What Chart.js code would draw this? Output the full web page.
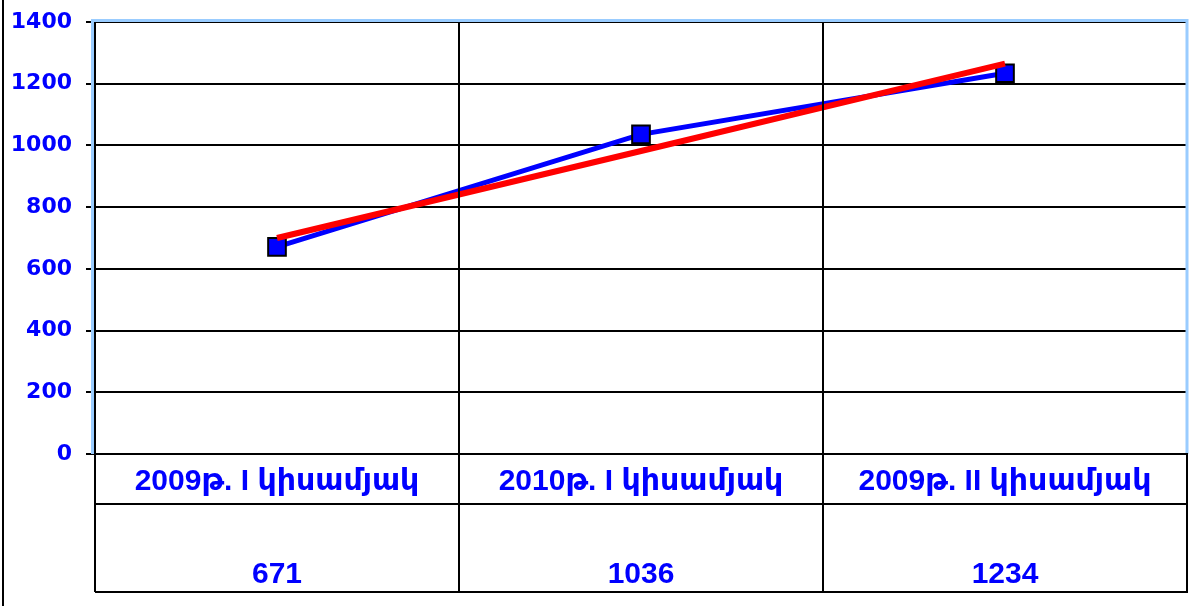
<!DOCTYPE html>
<html>
<head>
<meta charset="utf-8">
<script src="https://cdn.jsdelivr.net/npm/chart.js@4.4.0/dist/chart.umd.min.js"></script>
<style>
  html, body { margin: 0; padding: 0; background: #fff; }
  #wrap { width: 1189px; height: 606px; position: relative; }
</style>
</head>
<body>
<div id="wrap"><canvas id="chart" width="1189" height="606"></canvas></div>
<script>
// տվյալներ
const categories = ["2009թ. I կիսամյակ", "2010թ. I կիսամյակ", "2009թ. II կիսամյակ"];
const values = [671, 1036, 1234];
const trendValues = [700, 982, 1265]; // կարմիր գիծ, նկարից
const yTicks = [0, 200, 400, 600, 800, 1000, 1200, 1400];

const AXIS_FONT = "'DejaVu Sans', Verdana, sans-serif";
const TABLE_FONT = "'Liberation Sans', Arial, 'DejaVu Sans', sans-serif";
const BLUE_TXT = '#0000ff';

function noPadding(scale) {
    scale.paddingLeft = 0;
    scale.paddingRight = 0;
    scale.paddingTop = 0;
    scale.paddingBottom = 0;
}

// աղյուսակը գծի տակ
const tablePlugin = {
    id: 'dataTable',
    beforeDatasetsDraw(chart) {
        const ctx = chart.ctx;
        const a = chart.chartArea;
        ctx.save();
        ctx.strokeStyle = '#99ccff';
        ctx.lineWidth = 3;
        ctx.beginPath();
        ctx.moveTo(a.left - 2.5, a.bottom);
        ctx.lineTo(a.left - 2.5, a.top - 1.5);
        ctx.lineTo(a.right, a.top - 1.5);
        ctx.lineTo(a.right, a.bottom);
        ctx.stroke();
        ctx.restore();
    },
    afterDraw(chart) {
        const ctx = chart.ctx;
        const a = chart.chartArea;
        const xs = chart.scales.x;
        const rowMid = a.bottom + 50;
        const tableBottom = a.bottom + 138;
        ctx.save();
        ctx.strokeStyle = '#000';
        ctx.lineWidth = 2;
        // frame left
        ctx.beginPath();
        ctx.moveTo(3, 0);
        ctx.lineTo(3, 606);
        ctx.stroke();
        // horizontal lines
        [a.bottom, rowMid, tableBottom].forEach(y => {
            ctx.beginPath();
            ctx.moveTo(a.left, y);
            ctx.lineTo(a.right + 1, y);
            ctx.stroke();
        });
        // vertical lines
        const step = (a.right - a.left) / categories.length;
        for (let i = 0; i <= categories.length; i++) {
            const x = a.left + step * i;
            ctx.beginPath();
            ctx.moveTo(x, i === 0 || i === categories.length ? a.bottom : a.top);
            ctx.lineTo(x, tableBottom);
            ctx.stroke();
        }
        ctx.fillStyle = BLUE_TXT;
        ctx.font = 'bold 30px ' + TABLE_FONT;
        ctx.textAlign = 'center';
        ctx.textBaseline = 'middle';
        categories.forEach((c, i) => {
            const x = xs.getPixelForValue(i);
            ctx.fillText(c, x, a.bottom + 28);
            ctx.fillText(String(values[i]), x, tableBottom - 17);
        });
        ctx.restore();
    }
};

new Chart(document.getElementById('chart'), {
    type: 'line',
    data: {
        labels: categories,
        datasets: [
            {
                label: 'trend',
                data: trendValues,
                borderColor: '#ff0000',
                borderWidth: 6,
                pointRadius: 0,
                fill: false,
                tension: 0,
                order: 0
            },
            {
                label: 'values',
                data: values,
                borderColor: '#0000ff',
                borderWidth: 5,
                backgroundColor: '#0000ff',
                pointStyle: 'rect',
                pointRadius: 12.5,
                pointBorderColor: '#000',
                pointBorderWidth: 2,
                pointBackgroundColor: '#0000ff',
                fill: false,
                tension: 0,
                order: 1
            }
        ]
    },
    options: {
        responsive: false,
        animation: false,
        layout: { autoPadding: false, padding: { left: 0, top: 22, right: 2, bottom: 14 } },
        plugins: {
            legend: { display: false },
            tooltip: { enabled: false }
        },
        scales: {
            x: {
                offset: true,
                grid: { offset: true, display: true, color: '#000', lineWidth: 2, drawTicks: false },
                border: { display: true, color: '#000', width: 2 },
                ticks: { display: false },
                afterFit(scale) { scale.height = 138; noPadding(scale); }
            },
            y: {
                min: 0,
                max: 1400,
                afterBuildTicks(scale) { scale.ticks = yTicks.map(v => ({ value: v })); },
                grid: { color: '#000', lineWidth: 2, tickLength: 9, drawOnChartArea: true },
                border: { display: true, color: '#000', width: 2 },
                ticks: {
                    color: BLUE_TXT,
                    padding: 14,
                    font: { family: AXIS_FONT, size: 22, weight: 'bold' },
                    callback: v => String(v)
                },
                afterFit(scale) { scale.width = 95; noPadding(scale); }
            }
        }
    },
    plugins: [tablePlugin]
});
</script>
</body>
</html>
